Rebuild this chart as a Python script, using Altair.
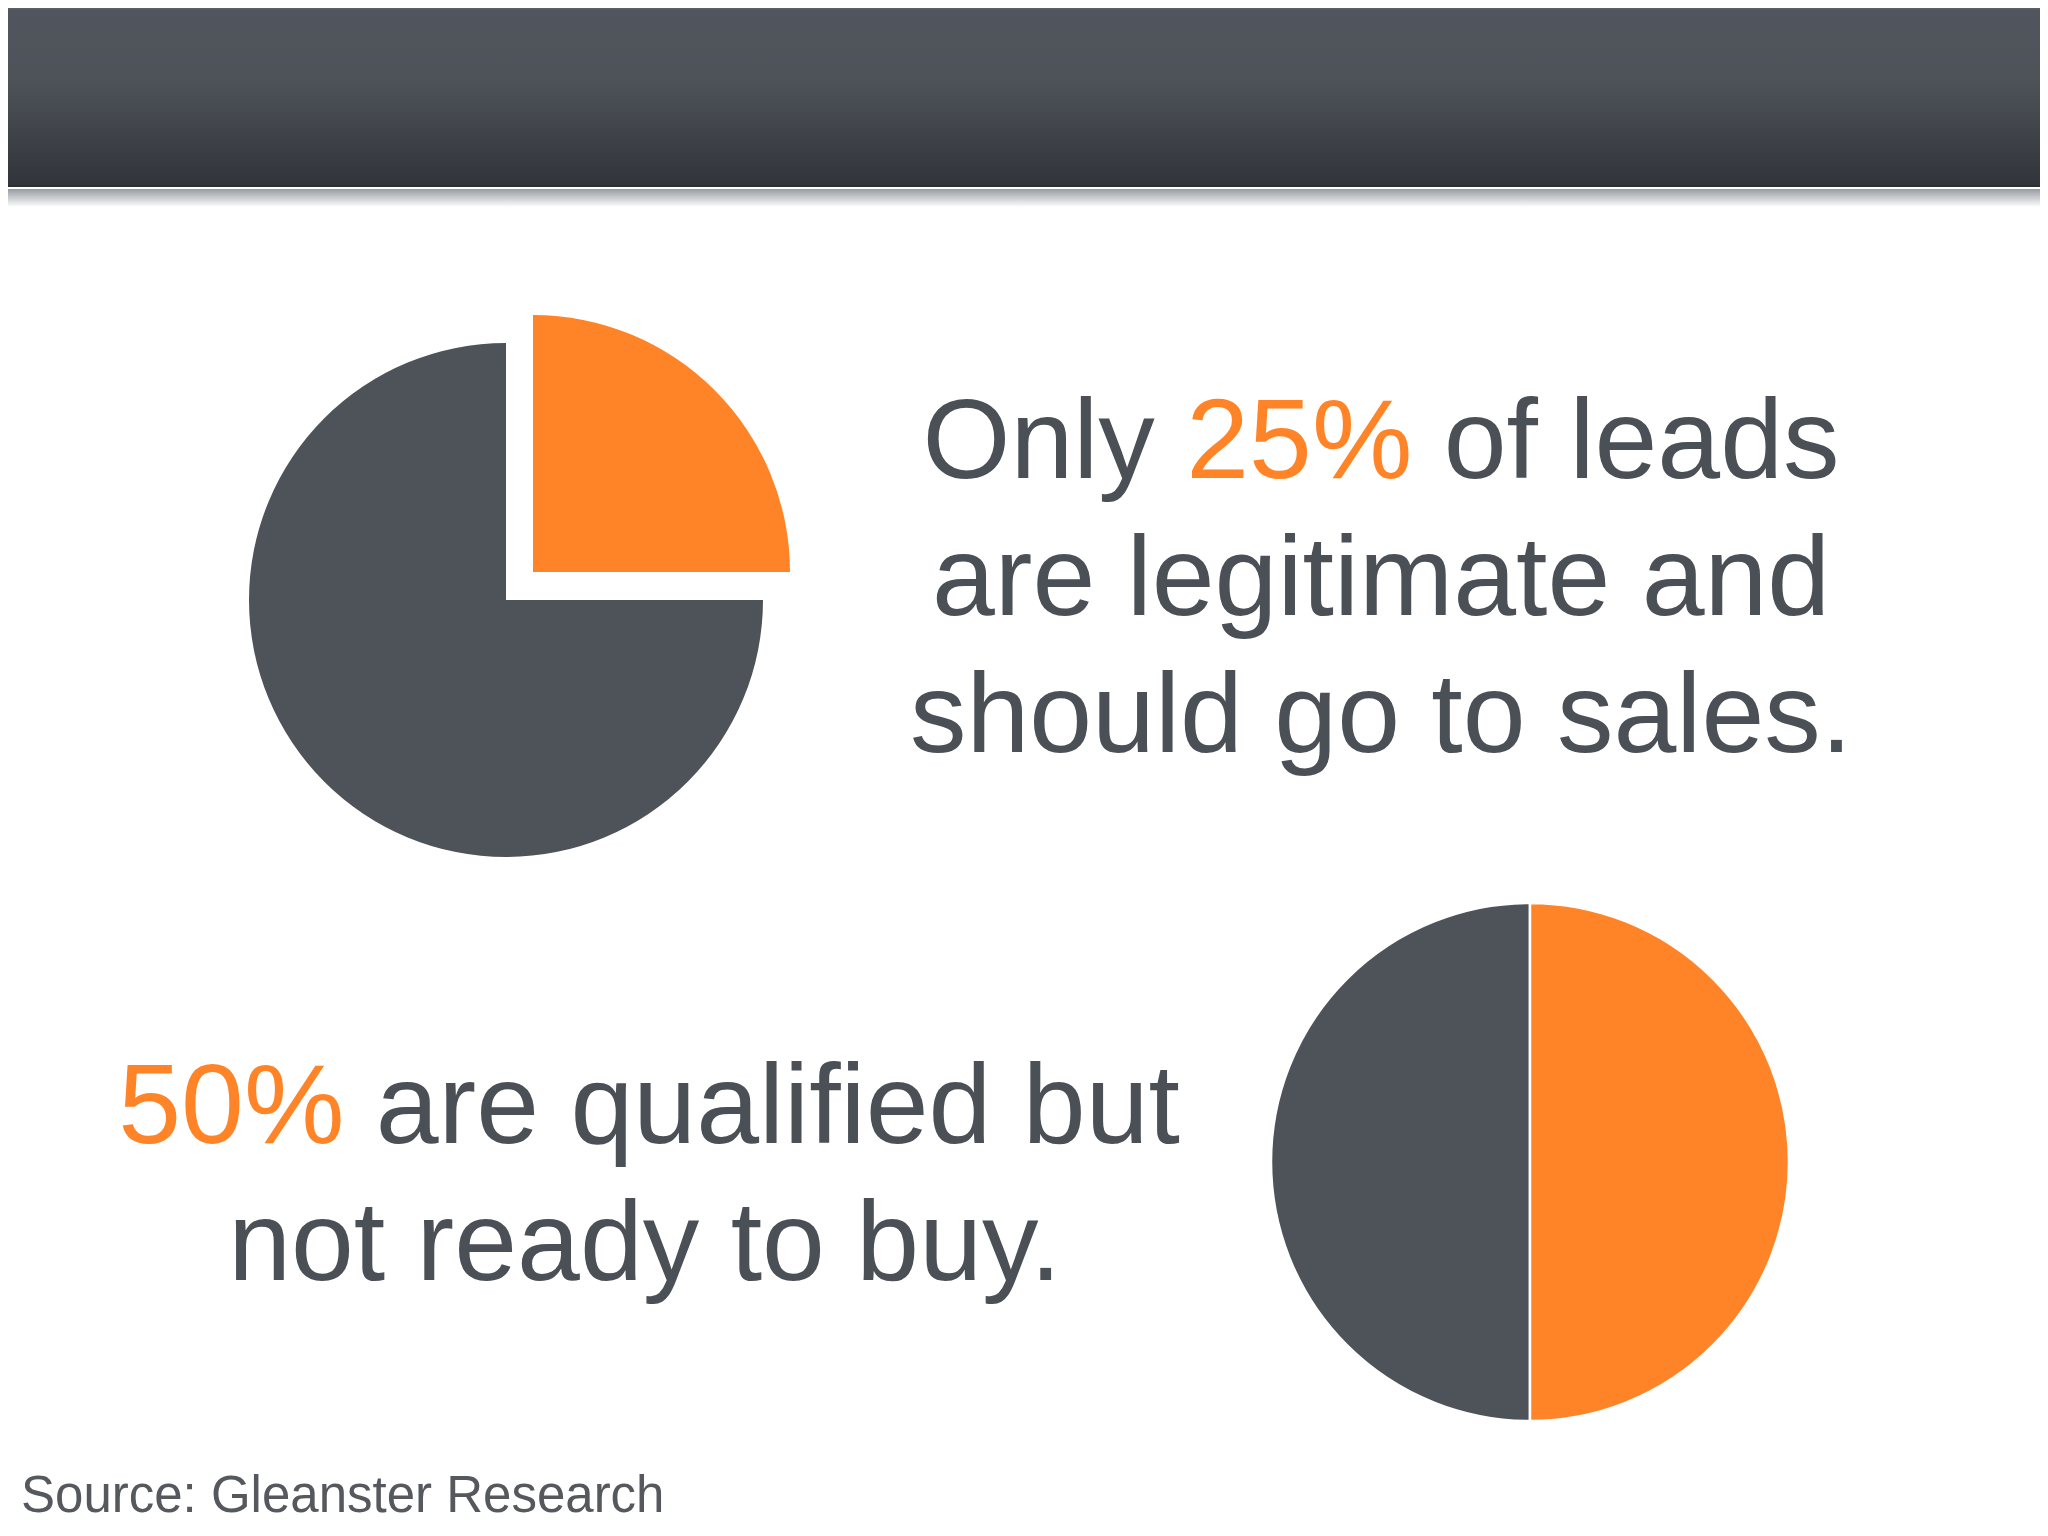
import math
import altair as alt
import pandas as pd

# ---------------- data ----------------
pie1_labels = ["Legitimate, sales-ready leads", "Other leads"]
pie1_values = [25, 75]
pie2_labels = ["Qualified, not ready to buy", "Other leads"]
pie2_values = [50, 50]

block1_lines = [["Only ", "25%", " of leads"], ["are legitimate and"], ["should go to sales."]]
block2_lines = [["50%", " are qualified but"], ["not ready to buy."]]
source_text = "Source: Gleanster Research"

ORANGE = "#fe8427"
GRAY = "#4e535a"
TEXT_GRAY = "#4b5056"
SRC_GRAY = "#55595e"
FONT = "Liberation Sans"

W, H = 2032, 1512
OFF = 8  # page margin

# Arial / Liberation Sans advance widths (per 1000 em)
ADV = {" ": 278, ".": 278, ":": 278, "%": 889, ",": 278,
       "a": 556, "b": 556, "c": 500, "d": 556, "e": 556, "f": 278, "g": 556,
       "h": 556, "i": 222, "l": 222, "m": 833, "n": 556, "o": 556, "q": 556,
       "r": 333, "s": 500, "t": 278, "u": 556, "y": 500,
       "O": 778, "G": 778, "R": 722, "S": 667}
for d in "0123456789":
    ADV[d] = 556


def tw(s, size):
    return sum(ADV.get(c, 556) for c in s) / 1000.0 * size


def pie_frame(labels, values):
    df = pd.DataFrame({"label": labels, "value": values})
    df["end"] = df["value"].cumsum()
    df["start"] = df["end"] - df["value"]
    return df


df1 = pie_frame(pie1_labels, pie1_values)
df2 = pie_frame(pie2_labels, pie2_values)

theta_scale = alt.Scale(domain=[0, 100], range=[0, 2 * math.pi])
color_scale = alt.Scale(domain=[pie1_labels[0], pie2_labels[0], "Other leads"],
                        range=[ORANGE, ORANGE, GRAY])


def arc_layer(df, label, cx, cy, r, stroke=None):
    kw = dict(radius=r)
    if stroke:
        kw.update(stroke=stroke, strokeWidth=2.5)
    return (alt.Chart(df)
            .transform_filter(alt.datum.label == label)
            .mark_arc(**kw)
            .encode(theta=alt.Theta("start:Q", scale=theta_scale),
                    theta2="end:Q",
                    color=alt.Color("label:N", scale=color_scale, legend=None),
                    x=alt.value(cx), y=alt.value(cy)))


layers = []

# ---------------- header bar ----------------
bar_grad = alt.LinearGradient(
    gradient="linear", x1=0, y1=0, x2=0, y2=1,
    stops=[alt.GradientStop(offset=0, color="#51565e"),
           alt.GradientStop(offset=0.4, color="#4e535a"),
           alt.GradientStop(offset=1, color="#31343a")])
shadow_grad = alt.LinearGradient(
    gradient="linear", x1=0, y1=0, x2=0, y2=1,
    stops=[alt.GradientStop(offset=0, color="#979ba0"),
           alt.GradientStop(offset=1, color="#ffffff")])

hdr = alt.Chart(pd.DataFrame({"k": [0]}))
layers.append(hdr.mark_rect(color=bar_grad).encode(
    x=alt.value(0), x2=alt.value(W), y=alt.value(0), y2=alt.value(185 - OFF)))
layers.append(hdr.mark_rect(color="#2c2f34").encode(
    x=alt.value(0), x2=alt.value(W), y=alt.value(185 - OFF), y2=alt.value(187 - OFF)))
layers.append(hdr.mark_rect(color=shadow_grad).encode(
    x=alt.value(0), x2=alt.value(W), y=alt.value(189 - OFF), y2=alt.value(207 - OFF)))
layers.append(hdr.mark_rect(color="#5c6067").encode(
    x=alt.value(0), x2=alt.value(W), y=alt.value(0), y2=alt.value(1.5)))

# ---------------- pies ----------------
R1 = 257
c1x, c1y = 506 - OFF, 600 - OFF
layers.append(arc_layer(df1, "Other leads", c1x, c1y, R1))
layers.append(arc_layer(df1, pie1_labels[0], c1x + 27, c1y - 28, R1))

R2 = 259
c2x, c2y = 1530 - OFF, 1162 - OFF
layers.append(arc_layer(df2, "Other leads", c2x, c2y, R2, stroke="#ffffff"))
layers.append(arc_layer(df2, pie2_labels[0], c2x, c2y, R2, stroke="#ffffff"))


# ---------------- text ----------------
def text_layer(s, x, y, color, size, align="left"):
    return (alt.Chart(pd.DataFrame({"t": [s.strip()]}))
            .mark_text(font=FONT, fontSize=size, color=color, align=align,
                       baseline="alphabetic")
            .encode(text="t:N", x=alt.value(x), y=alt.value(y)))


def block(lines, cx, baselines, size, highlight):
    out = []
    for segs, by in zip(lines, baselines):
        total = sum(tw(s, size) for s in segs)
        x = cx - total / 2.0
        for s in segs:
            lead = len(s) - len(s.lstrip())
            xs = x + tw(s[:lead], size)
            col = ORANGE if s.strip() in highlight else TEXT_GRAY
            out.append(text_layer(s, xs, by, col, size))
            x += tw(s, size)
    return out


FS = 113
layers += block(block1_lines, 1381 - OFF, [478 - OFF, 615 - OFF, 752 - OFF], FS, {"25%"})
layers += block(block2_lines, 649 - OFF, [1143 - OFF, 1280 - OFF], FS, {"50%"})
layers.append(text_layer(source_text, 21 - OFF, 1512 - OFF, SRC_GRAY, 51))

chart = (alt.layer(*layers)
         .properties(width=W, height=H, padding=0, background="#ffffff")
         .configure_view(stroke=None))

chart.save("out.html", embed_options={"renderer": "svg", "actions": False})
